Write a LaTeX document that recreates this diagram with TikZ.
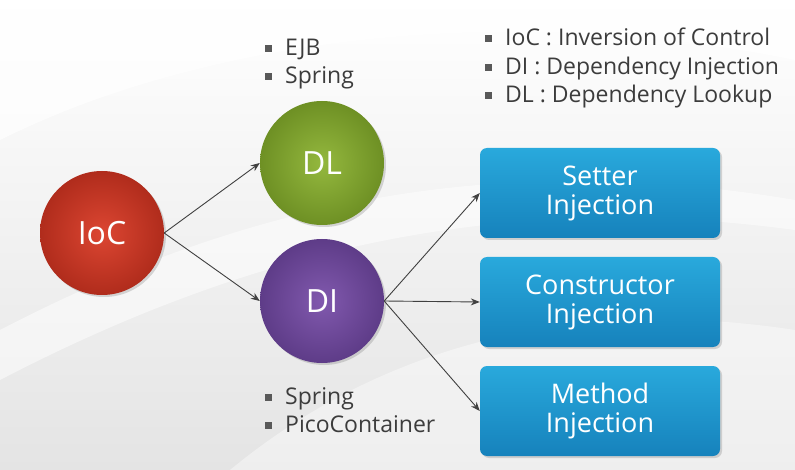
\documentclass[tikz,border=0pt]{standalone}
\usepackage{fontspec}
\setmainfont{Open Sans}
\usetikzlibrary{shadows,shadings,arrows.meta}
\definecolor{bgray}{HTML}{E4E4E4}
\definecolor{txtgray}{HTML}{3C3C3C}
\definecolor{iocred}{HTML}{DC4632}
\definecolor{iocdark}{HTML}{B02C1C}
\definecolor{dlgreen}{HTML}{94B83E}
\definecolor{dldark}{HTML}{6E9024}
\definecolor{dipurple}{HTML}{8159AE}
\definecolor{didark}{HTML}{5E3C88}
\definecolor{boxblue}{HTML}{29A9DC}
\definecolor{boxdark}{HTML}{1682BC}
\newcommand{\bsq}{\textcolor{txtgray!85}{\rule[3.5pt]{7pt}{7pt}}\hspace{13pt}}
\tikzset{
  circ/.style={circle, minimum size=124pt, inner sep=0pt, text=white, shading=radial,
    font=\fontsize{32}{36}\selectfont, drop shadow={shadow xshift=2pt, shadow yshift=-2pt, opacity=0.3}},
  ibox/.style={rounded corners=7pt, minimum width=240pt, minimum height=90pt, inner sep=0pt,
    top color=boxblue, bottom color=boxdark, text=white, align=center,
    font=\fontsize{27}{29}\selectfont,
    drop shadow={shadow xshift=2pt, shadow yshift=-2pt, opacity=0.3}},
  blist/.style={anchor=west, align=left, text=txtgray, font=\fontsize{23}{28.5}\selectfont, inner sep=0pt},
  conn/.style={draw=black!75, line width=0.9pt, -{Stealth[length=9pt,width=7pt]}}
}
\begin{document}
\begin{tikzpicture}[x=1pt,y=-1pt]
% background
\shade[top color=white, bottom color=bgray] (0,0) rectangle (795,470);
\useasboundingbox (0,0) rectangle (795,470);
\fill[white, opacity=0.7] (0,140) .. controls (200,40) and (500,0) .. (795,60) -- (795,0) -- (0,0) -- cycle;
\fill[white, opacity=0.5] (0,330) .. controls (250,200) and (500,150) .. (795,200) -- (795,230) .. controls (500,190) and (250,250) .. (0,380) -- cycle;
\fill[white, opacity=0.4] (230,470) .. controls (400,330) and (600,300) .. (795,330) -- (795,470) -- cycle;
% circles
\node[circ, inner color=iocred, outer color=iocdark] (ioc) at (102,233) {IoC};
\node[circ, inner color=dlgreen, outer color=dldark] (dl) at (322,163) {DL};
\node[circ, inner color=dipurple, outer color=didark] (di) at (322,301) {DI};
% boxes
\node[ibox] (setter) at (600,193) {Setter\\Injection};
\node[ibox] (ctor) at (600,302) {Constructor\\Injection};
\node[ibox] (method) at (600,411) {Method\\Injection};
% connectors
\draw[conn] (ioc.east) -- (dl.west);
\draw[conn] (ioc.east) -- (di.west);
\draw[conn] (di.east) -- (setter.west);
\draw[conn] (di.east) -- (ctor.west);
\draw[conn] (di.east) -- (method.west);
% lists
\node[blist] (dllist) at (265,64) {\bsq EJB\\\bsq Spring};
\node[blist] (dilist) at (265,410) {\bsq Spring\\\bsq PicoContainer};
\node[blist] (legend) at (485,68) {\bsq IoC : Inversion of Control\\\bsq DI : Dependency Injection\\\bsq DL : Dependency Lookup};
\end{tikzpicture}
\end{document}
